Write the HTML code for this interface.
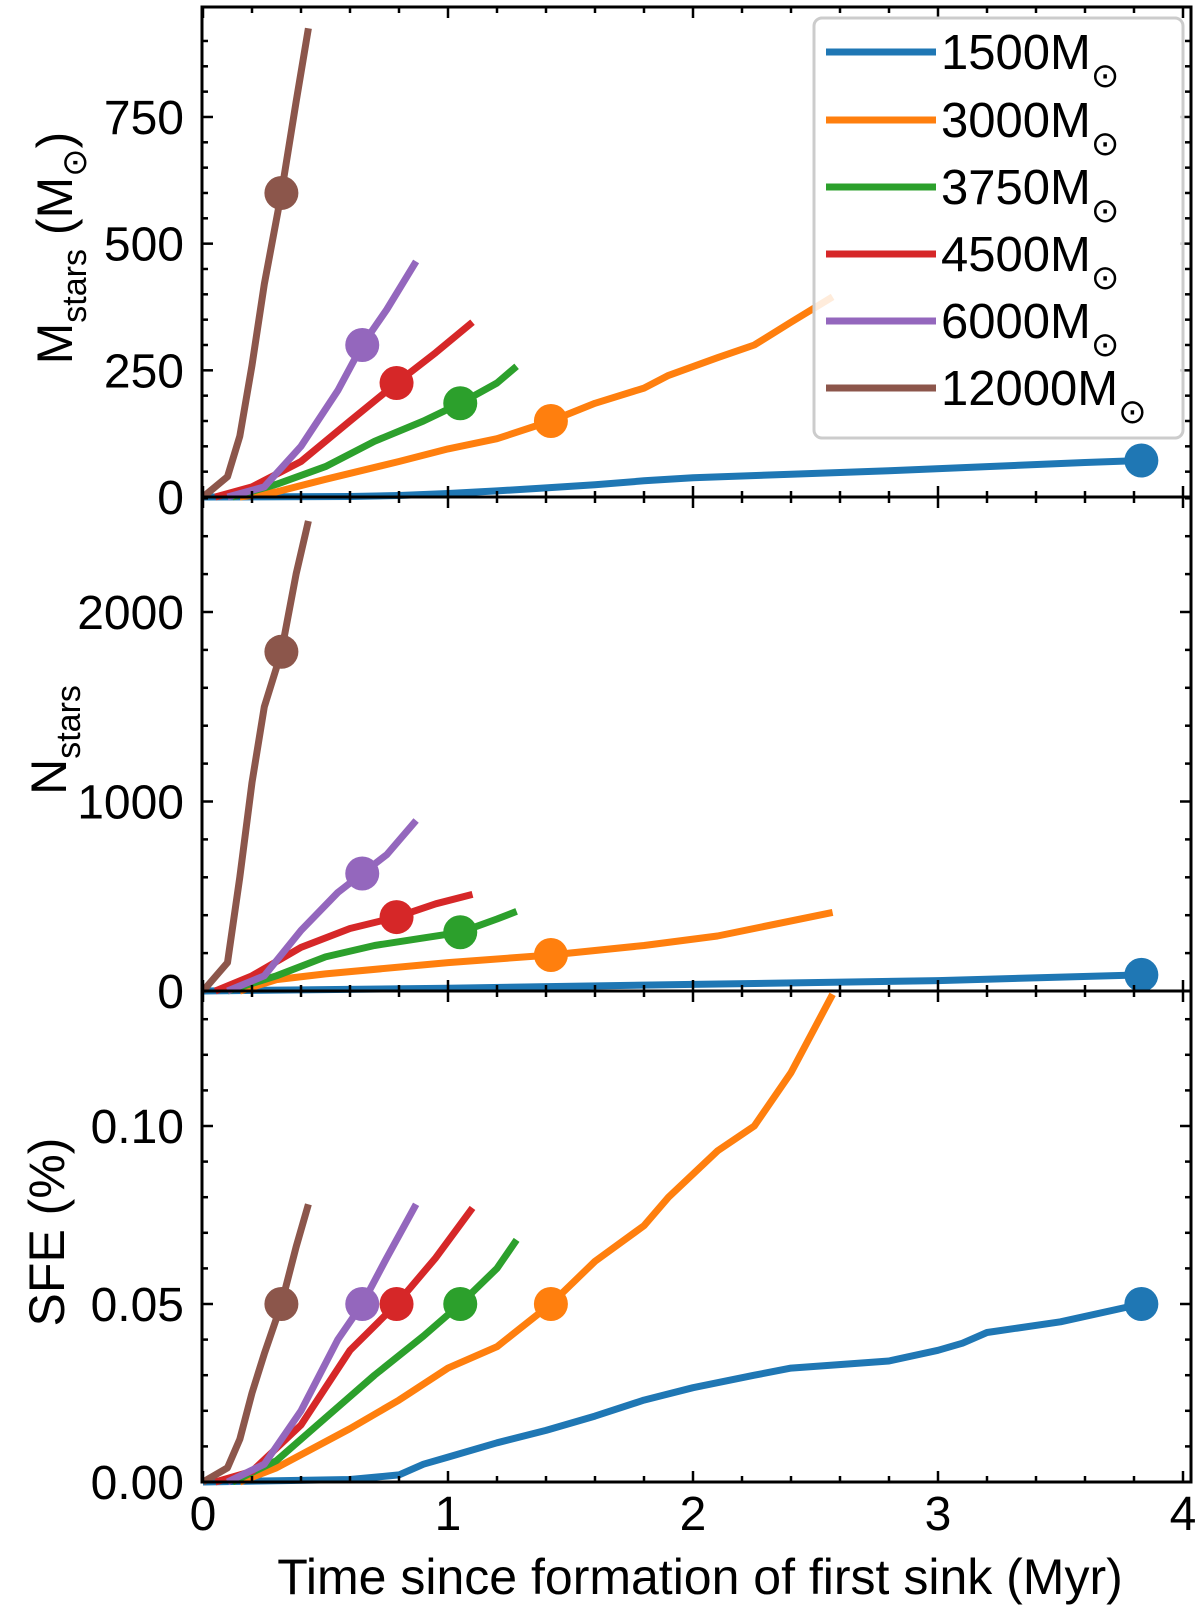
<!DOCTYPE html>
<html><head><meta charset="utf-8"><style>
html,body{margin:0;padding:0;background:#fff}
svg{display:block;font-family:"Liberation Sans",Arial,sans-serif}
</style></head><body>
<svg id="chart" width="1200" height="1616" viewBox="0 0 1200 1616" xmlns="http://www.w3.org/2000/svg"></svg>
<script>
const seriesNames = ["1500", "3000", "3750", "4500", "6000", "12000"];
const seriesColors = ["#1f77b4", "#ff7f0e", "#2ca02c", "#d62728", "#9467bd", "#8c564b"];
const markerT = [3.83, 1.42, 1.05, 0.79, 0.65, 0.32];
const markerM = [72, 150, 185, 225, 300, 600];
const markerN = [85, 190, 310, 390, 620, 1790];
const markerSFE = [0.05, 0.05, 0.05, 0.05, 0.05, 0.05];
const massT = [
 [0,0.6,0.8,1,1.2,1.4,1.6,1.8,2,2.4,2.8,3.2,3.6,3.83],
 [0.15,0.3,0.5,0.8,1,1.2,1.42,1.6,1.8,1.9,2.1,2.25,2.4,2.57],
 [0.12,0.3,0.5,0.7,0.9,1.05,1.2,1.28],
 [0.05,0.2,0.4,0.6,0.79,0.95,1.1],
 [0.1,0.25,0.4,0.55,0.65,0.75,0.87],
 [0,0.1,0.15,0.2,0.25,0.32,0.38,0.43]];
const massV = [
 [0,1,3,7,12,18,24,32,38,45,52,60,68,72],
 [0,10,35,70,95,115,150,185,215,240,275,300,345,395],
 [0,25,60,110,150,185,225,258],
 [0,20,70,150,225,285,345],
 [0,20,100,210,300,370,465],
 [0,40,120,260,420,600,780,925]];
const numT = [
 [0,1,2,3,3.83],
 [0.15,0.3,0.5,1,1.42,1.8,2.1,2.57],
 [0.1,0.3,0.5,0.7,0.9,1.05,1.2,1.28],
 [0.05,0.2,0.4,0.6,0.79,0.95,1.1],
 [0.1,0.25,0.4,0.55,0.65,0.75,0.87],
 [0,0.1,0.15,0.2,0.25,0.32,0.38,0.43]];
const numV = [
 [0,15,35,55,85],
 [0,60,90,150,190,240,290,415],
 [0,80,180,240,280,310,380,420],
 [0,80,230,330,390,460,510],
 [0,80,320,520,620,720,900],
 [0,150,600,1100,1500,1790,2200,2480]];
const sfeT = [
 [0,0.6,0.8,0.9,1,1.2,1.4,1.6,1.8,2,2.25,2.4,2.8,3,3.1,3.2,3.5,3.83],
 [0.15,0.3,0.6,0.8,1,1.2,1.42,1.6,1.8,1.9,2.1,2.25,2.4,2.57],
 [0.12,0.3,0.5,0.7,0.9,1.05,1.2,1.28],
 [0.05,0.2,0.4,0.6,0.79,0.95,1.1],
 [0.1,0.25,0.4,0.55,0.65,0.75,0.87],
 [0,0.1,0.15,0.2,0.25,0.32,0.38,0.43]];
const sfeV = [
 [0,0.0007,0.002,0.005,0.007,0.011,0.0145,0.0185,0.023,0.0265,0.03,0.032,0.034,0.037,0.039,0.042,0.045,0.05],
 [0,0.004,0.015,0.023,0.032,0.038,0.05,0.062,0.072,0.08,0.093,0.1,0.115,0.137],
 [0,0.006,0.018,0.03,0.041,0.05,0.06,0.068],
 [0,0.003,0.016,0.037,0.05,0.063,0.077],
 [0,0.005,0.02,0.04,0.05,0.063,0.078],
 [0,0.004,0.012,0.025,0.036,0.05,0.066,0.078]];
const xTicks = [0,1,2,3,4];
const massTicks = [0,250,500,750];
const numTicks = [0,1000,2000];
const sfeTicks = [0,0.05,0.10];
const sfeTickLabels = ["0.00","0.05","0.10"];

const NS="http://www.w3.org/2000/svg";
const svg=document.getElementById('chart');
function el(tag,attrs,parent){const e=document.createElementNS(NS,tag);for(const k in attrs)e.setAttribute(k,attrs[k]);(parent||svg).appendChild(e);return e;}
const L=202,R=1191;
const x=t=>203+245*t;
const panels=[
 {name:'mass',top:7,bot:497,y:v=>497-v*0.5067,vmax:940,minor:50,ticks:massTicks,labels:massTicks.map(String),T:massT,V:massV,mk:markerM},
 {name:'count',top:497,bot:991,y:v=>991-v*0.1895,vmax:2600,minor:200,ticks:numTicks,labels:numTicks.map(String),T:numT,V:numV,mk:markerN},
 {name:'sfe',top:991,bot:1482,y:v=>1482-v*3560,vmax:0.138,minor:0.01,ticks:sfeTicks,labels:sfeTickLabels,T:sfeT,V:sfeV,mk:markerSFE}];
panels.forEach((p,pi)=>{
 const g=el('g',{});
 
 
 for(let i=0;i<seriesNames.length;i++){
  const d=p.T[i].map((t,j)=>(j?'L':'M')+x(t).toFixed(1)+','+p.y(p.V[i][j]).toFixed(1)).join(' ');
  const path=el('path',{d:d,fill:'none',stroke:seriesColors[i],'stroke-width':7,'stroke-linejoin':'round','stroke-linecap':'butt'},g);
  
  
 }
 for(let i=0;i<seriesNames.length;i++){
  const c=el('circle',{cx:x(markerT[i]),cy:p.y(p.mk[i]),r:17,fill:seriesColors[i]},g);
  
  
 }
 for(let v=0;v<=p.vmax+1e-9;v+=p.minor){
  const yy=p.y(v);if(yy<p.top+1)continue;
  const major=p.ticks.some(t=>Math.abs(t-v)<1e-9);
  const len=major?11:6;
  el('line',{x1:L,x2:L+len,y1:yy,y2:yy,stroke:'#000','stroke-width':2.5},g);
  el('line',{x1:R,x2:R-len,y1:yy,y2:yy,stroke:'#000','stroke-width':2.5},g);
 }
 p.ticks.forEach((v,k)=>{
  const t=el('text',{x:L-18,y:p.y(v)+17,'text-anchor':'end','font-size':48},g);
  t.textContent=p.labels[k];
  
  
 });
 for(let k=0;k<=20;k++){
  const t=k*0.2;const xx=x(t);if(xx>R-1)continue;
  const len=(k%5===0)?11:6;
  el('line',{x1:xx,x2:xx,y1:p.bot,y2:p.bot-len,stroke:'#000','stroke-width':2.5},g);
  el('line',{x1:xx,x2:xx,y1:p.top,y2:p.top+len,stroke:'#000','stroke-width':2.5},g);
 }
 const fr=el('rect',{x:L,y:p.top,width:R-L,height:p.bot-p.top,fill:'none',stroke:'#000','stroke-width':3},g);
 
 
});
xTicks.forEach(v=>{
 const t=el('text',{x:x(v),y:1530,'text-anchor':'middle','font-size':48});
 t.textContent=String(v);
 
 
});
</script>
<svg width="1200" height="1616" viewBox="0 0 1200 1616" style="position:absolute;left:0;top:0;font-family:'Liberation Sans',Arial,sans-serif" xmlns="http://www.w3.org/2000/svg">
 <text x="700" y="1594" text-anchor="middle" font-size="50">Time since formation of first sink (Myr)</text>
 <text transform="translate(72,248) rotate(-90)" text-anchor="middle" font-size="50">M<tspan font-size="34" dy="14">stars</tspan><tspan dy="-14"> (M</tspan><tspan font-size="34" dy="14">⊙</tspan><tspan dy="-14">)</tspan></text>
 <text transform="translate(66,740) rotate(-90)" text-anchor="middle" font-size="50">N<tspan font-size="34" dy="14">stars</tspan></text>
 <text transform="translate(64,1232) rotate(-90)" text-anchor="middle" font-size="50">SFE (%)</text>
 <g>
  <rect x="814" y="18" width="369" height="420" rx="8" fill="#fff" fill-opacity="0.85" stroke="#ccc" stroke-width="3"/>
  <g><line x1="826" x2="936" y1="52" y2="52" stroke="#1f77b4" stroke-width="7"/><text x="941" y="69" font-size="49">1500M<tspan font-size="34" dy="18">⊙</tspan></text></g>
  <g><line x1="826" x2="936" y1="120" y2="120" stroke="#ff7f0e" stroke-width="7"/><text x="941" y="137" font-size="49">3000M<tspan font-size="34" dy="18">⊙</tspan></text></g>
  <g><line x1="826" x2="936" y1="187" y2="187" stroke="#2ca02c" stroke-width="7"/><text x="941" y="204" font-size="49">3750M<tspan font-size="34" dy="18">⊙</tspan></text></g>
  <g><line x1="826" x2="936" y1="254" y2="254" stroke="#d62728" stroke-width="7"/><text x="941" y="271" font-size="49">4500M<tspan font-size="34" dy="18">⊙</tspan></text></g>
  <g><line x1="826" x2="936" y1="321" y2="321" stroke="#9467bd" stroke-width="7"/><text x="941" y="338" font-size="49">6000M<tspan font-size="34" dy="18">⊙</tspan></text></g>
  <g><line x1="826" x2="936" y1="388" y2="388" stroke="#8c564b" stroke-width="7"/><text x="941" y="405" font-size="49">12000M<tspan font-size="34" dy="18">⊙</tspan></text></g>
 </g>
</svg>
</body></html>
